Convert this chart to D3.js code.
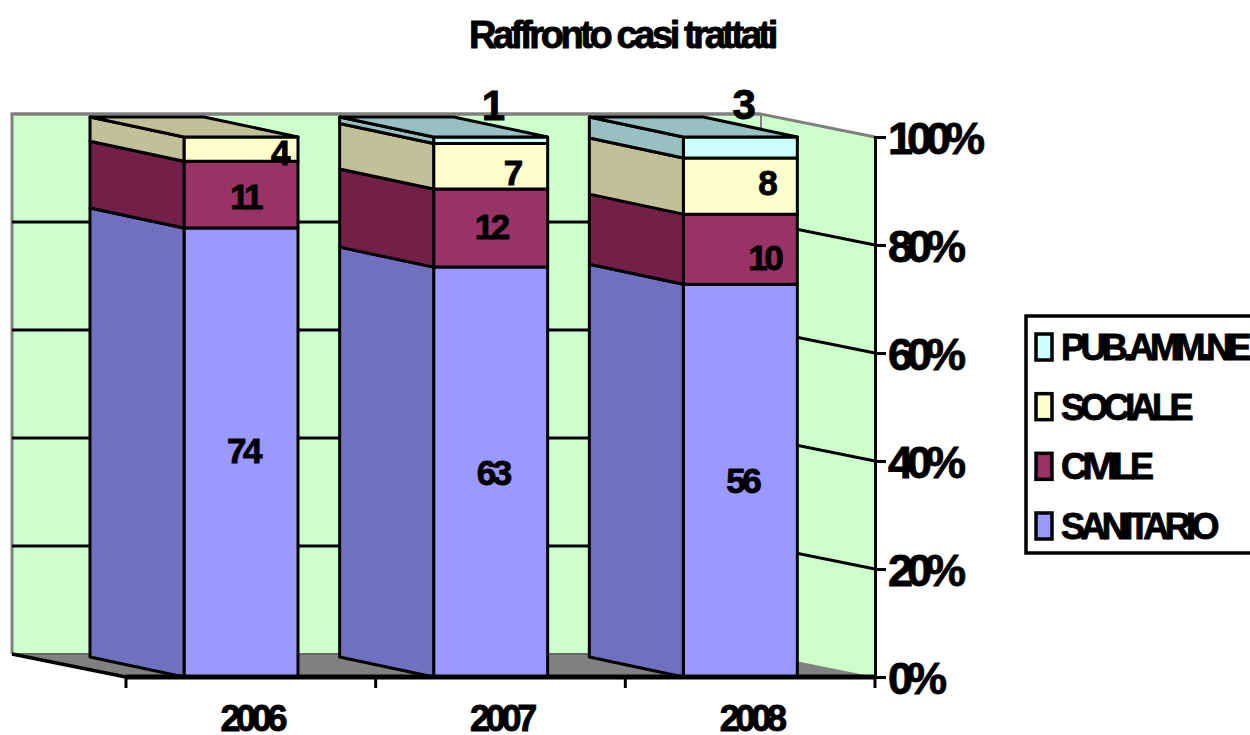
<!DOCTYPE html>
<html>
<head>
<meta charset="utf-8">
<script src="https://cdn.jsdelivr.net/npm/d3@7"></script>
<style>
  html, body { margin: 0; padding: 0; background: #fff; overflow: hidden; }
  text { font-family: "Liberation Sans", Arial, sans-serif; font-weight: bold; fill: #000; stroke: #000; stroke-width: 0.9px; }
</style>
</head>
<body>
<svg id="chart" width="1250" height="735"></svg>
<script>
// chart values
const years = ["2006", "2007", "2008"];
const seriesNames = ["SANITARIO", "CIVILE", "SOCIALE", "PUB.AMM.NE"];
const sanitario = [74, 63, 56];
const civile = [11, 12, 10];
const sociale = [4, 7, 8];
const pubAmmne = [0, 1, 3];
const yTicks = [0, 20, 40, 60, 80, 100];

const seriesValues = [sanitario, civile, sociale, pubAmmne];
const frontColors = ["#9999ff", "#993366", "#ffffcc", "#ccffff"];
const sideColors = ["#7070c0", "#732049", "#c0c099", "#99c0c0"];

const svg = d3.select("#chart");

// the front plane of the box, and how far the walls sit behind it
const plot = { left: 126, right: 875, top: 137, bottom: 677 };
const wallDepth = { x: -114, y: -23 };
const barDepth = { x: -94, y: -20 };
const barWidth = 114;
const barInset = 58;

const x = d3.scaleBand().domain(years).range([plot.left, plot.right]);
const y = d3.scaleLinear().domain([0, 100]).range([plot.bottom, plot.top]);

const poly = (pts, fill, stroke, sw) =>
  svg.append("polygon")
    .attr("points", pts.map(p => p.join(",")).join(" "))
    .attr("fill", fill)
    .attr("stroke", stroke || "none")
    .attr("stroke-width", sw || 0)
    .attr("stroke-linejoin", "round");

const line = (x1, y1, x2, y2, color, sw) =>
  svg.append("line")
    .attr("x1", x1).attr("y1", y1).attr("x2", x2).attr("y2", y2)
    .attr("stroke", color).attr("stroke-width", sw);

// walls and floor
const wallLeft = plot.left + wallDepth.x;
const wallRight = plot.right + wallDepth.x;
const wallTop = y(100) + wallDepth.y;
const wallBottom = y(0) + wallDepth.y;

poly([[wallLeft, wallTop], [wallRight, wallTop], [wallRight, wallBottom], [wallLeft, wallBottom]], "#ccffcc");
poly([[wallRight, wallTop], [plot.right, y(100)], [plot.right, y(0)], [wallRight, wallBottom]], "#ccffcc");
poly([[wallLeft, wallBottom], [wallRight, wallBottom], [plot.right, y(0)], [plot.left, y(0)]], "#808080");

line(wallLeft, wallTop, wallLeft, wallBottom, "#808080", 3);
line(wallLeft - 1.5, wallTop, wallRight, wallTop, "#808080", 3.5);
line(wallRight, wallTop, plot.right, y(100), "#808080", 3);
line(wallRight, wallTop, wallRight, wallBottom, "#808080", 2);
line(wallLeft, wallBottom, wallRight, wallBottom, "#666", 2);

// gridlines run along the back wall, then round the right wall
yTicks.filter(t => t > 0 && t < 100).forEach(t => {
  line(wallLeft, y(t) + wallDepth.y, wallRight, y(t) + wallDepth.y, "#000", 3);
  line(wallRight, y(t) + wallDepth.y, plot.right, y(t), "#000", 3);
});
line(wallLeft, wallBottom, plot.left, y(0), "#000", 3.5);

// stacked bars, 3D faces
years.forEach((year, i) => {
  const x0 = x(year) + barInset;
  const x1 = x0 + barWidth;
  const total = d3.sum(seriesValues, s => s[i]);
  const scale = 100 / total;
  let cum = 0;
  let topIndex = 0;
  seriesValues.forEach((s, k) => {
    if (s[i] === 0) return;
    const yA = y(cum * scale);
    cum += s[i];
    const yB = y(cum * scale);
    topIndex = k;
    poly([[x0, yA], [x1, yA], [x1, yB], [x0, yB]], frontColors[k], "#000", 3);
    poly([[x0, yA], [x0 + barDepth.x, yA + barDepth.y], [x0 + barDepth.x, yB + barDepth.y], [x0, yB]], sideColors[k], "#000", 3);
  });
  const yT = y(100);
  poly([[x0, yT], [x1, yT], [x1 + barDepth.x, yT + barDepth.y], [x0 + barDepth.x, yT + barDepth.y]], sideColors[topIndex], "#000", 3);
});

// value labels; Excel moved a few of them by hand
const labelNudge = { "0-0": [2, -2], "0-1": [4, 2], "0-2": [38, 3], "1-1": [0, -2], "1-2": [21, 6], "2-2": [26, -4], "2-1": [24, 8], "1-3": [1, -35], "2-3": [2, -44] };
years.forEach((year, i) => {
  const cx = x(year) + barInset + barWidth / 2;
  const total = d3.sum(seriesValues, s => s[i]);
  const scale = 100 / total;
  let cum = 0;
  seriesValues.forEach((s, k) => {
    if (s[i] === 0) return;
    const yMid = y((cum + s[i] / 2) * scale);
    cum += s[i];
    const nudge = labelNudge[i + "-" + k] || [2, 0];
    svg.append("text")
      .attr("x", cx + nudge[0])
      .attr("y", yMid + nudge[1])
      .attr("dy", "0.36em")
      .attr("text-anchor", "middle")
      .style("font-size", k === 3 ? "42px" : "35px")
      .style("letter-spacing", "-3.5px")
      .text(s[i]);
  });
});

// right axis
const yAxisG = svg.append("g")
  .attr("transform", `translate(${plot.right},0)`)
  .call(d3.axisRight(y).tickValues(yTicks).tickSize(11).tickFormat(d => d + "%"));
yAxisG.select(".domain").attr("stroke", "#000").attr("stroke-width", 3);
yAxisG.selectAll(".tick line").attr("stroke", "#000").attr("stroke-width", 3);
yAxisG.selectAll(".tick text")
  .attr("x", 13)
  .attr("dy", "0.36em")
  .style("font-size", "45px")
  .style("letter-spacing", "-6px");
line(plot.right, y(0), plot.right, y(0) + 11, "#000", 3);

// bottom axis: ticks fall between the categories
line(plot.left, y(0), plot.right, y(0), "#000", 5);
x.domain().forEach(d => line(x(d), y(0), x(d), y(0) + 11, "#000", 3));
svg.selectAll(".year")
  .data(years)
  .enter()
  .append("text")
  .attr("class", "year")
  .attr("x", d => x(d) + x.bandwidth() / 2 + 1)
  .attr("y", 731)
  .attr("text-anchor", "middle")
  .style("font-size", "36px")
  .style("letter-spacing", "-4.3px")
  .text(d => d);

// title
svg.append("text")
  .attr("x", 622)
  .attr("y", 48)
  .attr("text-anchor", "middle")
  .style("font-size", "38px")
  .style("letter-spacing", "-3.4px")
  .text("Raffronto casi trattati");

// legend
svg.append("rect")
  .attr("x", 1026).attr("y", 316).attr("width", 240).attr("height", 237)
  .attr("fill", "#fff").attr("stroke", "#000").attr("stroke-width", 3.5);

const legendY = d3.scalePoint()
  .domain(seriesNames.slice().reverse())
  .range([347, 526]);

seriesNames.forEach((name, k) => {
  svg.append("rect")
    .attr("x", 1036).attr("y", legendY(name) - 13)
    .attr("width", 16).attr("height", 26)
    .attr("fill", frontColors[k]).attr("stroke", "#000").attr("stroke-width", 3.5);
  svg.append("text")
    .attr("x", 1061).attr("y", legendY(name))
    .attr("dy", "0.36em")
    .style("font-size", "36px")
    .style("letter-spacing", "-4.6px")
    .text(name);
});
</script>
</body>
</html>
